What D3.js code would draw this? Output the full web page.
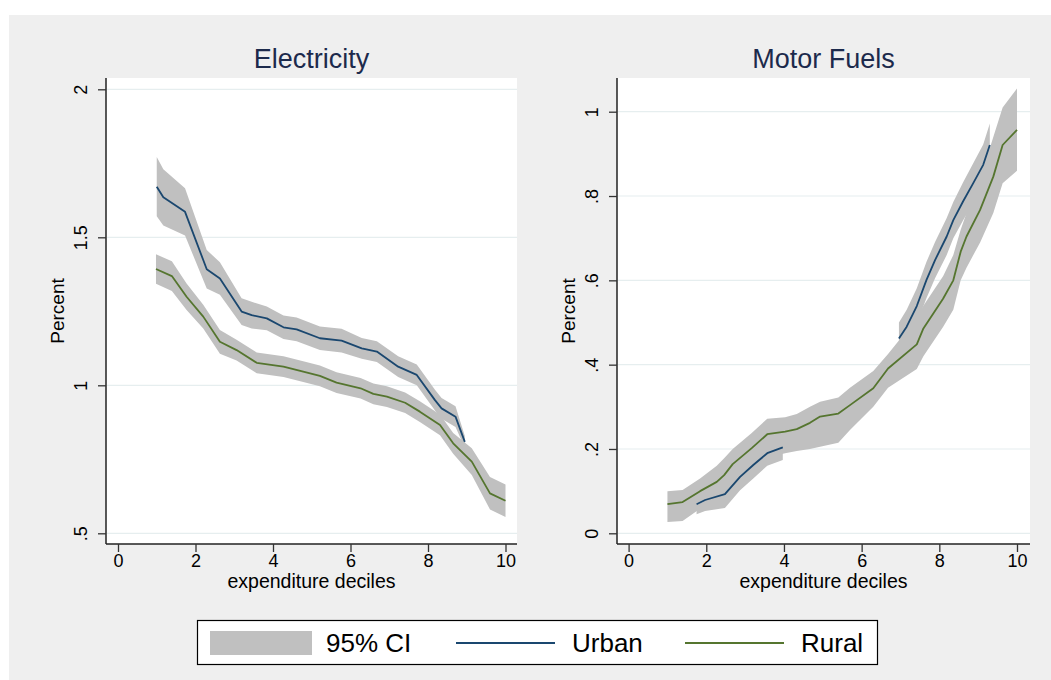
<!DOCTYPE html>
<html>
<head>
<meta charset="utf-8">
<script src="https://cdn.jsdelivr.net/npm/d3@7"></script>
<style>
  body { margin: 0; background: #fff; }
  text { font-family: "Liberation Sans", Arial, sans-serif; }
</style>
</head>
<body>
<div id="chart"></div>
<script>
// --- data ---
var xTicks = [0, 2, 4, 6, 8, 10];
var elecTicks = [0.5, 1, 1.5, 2];
var elecTickLabels = [".5", "1", "1.5", "2"];
var fuelTicks = [0, 0.2, 0.4, 0.6, 0.8, 1];
var fuelTickLabels = ["0", ".2", ".4", ".6", ".8", "1"];
var panelTitles = ["Electricity", "Motor Fuels"];
var legendLabels = ["95% CI", "Urban", "Rural"];

// Electricity, urban
var elecUrbanX  = [1.0, 1.17, 1.73, 2.29, 2.63, 3.19, 3.45, 3.84, 4.27, 4.61, 5.21, 5.77, 6.29, 6.68, 7.23, 7.71, 8.18, 8.35, 8.71, 8.95];
var elecUrban   = [1.671, 1.635, 1.586, 1.392, 1.361, 1.249, 1.237, 1.226, 1.196, 1.189, 1.159, 1.151, 1.125, 1.114, 1.063, 1.035, 0.950, 0.922, 0.894, 0.809];
var elecUrbanLo = [1.571, 1.540, 1.506, 1.327, 1.306, 1.204, 1.192, 1.186, 1.156, 1.149, 1.119, 1.111, 1.090, 1.079, 1.028, 1.000, 0.915, 0.887, 0.859, 0.789];
var elecUrbanHi = [1.771, 1.730, 1.666, 1.457, 1.416, 1.294, 1.282, 1.266, 1.236, 1.229, 1.199, 1.191, 1.160, 1.149, 1.098, 1.070, 0.985, 0.957, 0.929, 0.829];

// Electricity, rural
var elecRuralX  = [0.98, 1.39, 1.77, 2.2, 2.63, 3.06, 3.58, 4.27, 4.78, 5.21, 5.64, 6.26, 6.59, 6.94, 7.41, 7.79, 8.31, 8.65, 9.13, 9.6, 10.0];
var elecRural   = [1.393, 1.369, 1.299, 1.232, 1.147, 1.119, 1.076, 1.063, 1.046, 1.032, 1.009, 0.990, 0.971, 0.962, 0.941, 0.911, 0.866, 0.804, 0.742, 0.635, 0.610];
var elecRuralLo = [1.343, 1.319, 1.254, 1.192, 1.107, 1.084, 1.041, 1.028, 1.011, 0.997, 0.974, 0.955, 0.936, 0.927, 0.906, 0.876, 0.831, 0.769, 0.697, 0.580, 0.555];
var elecRuralHi = [1.443, 1.419, 1.344, 1.272, 1.187, 1.154, 1.111, 1.098, 1.081, 1.067, 1.044, 1.025, 1.006, 0.997, 0.976, 0.946, 0.901, 0.839, 0.787, 0.690, 0.665];

// Motor fuels, urban (null = no estimate)
var fuelUrbanX  = [1.75, 1.97, 2.48, 2.87, 3.21, 3.57, 3.97, null, 6.96, 7.16, 7.42, 7.67, 7.89, 8.19, 8.36, 8.61, 8.87, 9.13, 9.30];
var fuelUrban   = [0.069, 0.079, 0.093, 0.134, 0.162, 0.190, 0.204, null, 0.462, 0.490, 0.539, 0.601, 0.648, 0.704, 0.743, 0.787, 0.830, 0.874, 0.921];
var fuelUrbanLo = [0.045, 0.053, 0.060, 0.102, 0.130, 0.160, 0.174, null, 0.425, 0.450, 0.497, 0.558, 0.605, 0.660, 0.700, 0.742, 0.783, 0.826, 0.870];
var fuelUrbanHi = [0.093, 0.105, 0.125, 0.166, 0.194, 0.220, 0.234, null, 0.500, 0.530, 0.581, 0.644, 0.691, 0.748, 0.786, 0.832, 0.877, 0.922, 0.972];

// Motor fuels, rural
var fuelRuralX  = [1.0, 1.39, 1.84, 2.27, 2.46, 2.68, 3.17, 3.57, 4.03, 4.33, 4.67, 4.93, 5.40, 5.70, 6.30, 6.68, 7.42, 7.59, 8.10, 8.36, 8.55, 8.70, 9.05, 9.39, 9.63, 10.0];
var fuelRural   = [0.069, 0.074, 0.100, 0.122, 0.138, 0.164, 0.202, 0.235, 0.241, 0.247, 0.262, 0.277, 0.284, 0.304, 0.344, 0.391, 0.448, 0.486, 0.557, 0.600, 0.668, 0.704, 0.767, 0.846, 0.921, 0.957];
var fuelRuralLo = [0.027, 0.029, 0.058, 0.082, 0.096, 0.118, 0.160, 0.180, 0.190, 0.195, 0.200, 0.205, 0.215, 0.245, 0.300, 0.345, 0.390, 0.420, 0.490, 0.530, 0.600, 0.630, 0.690, 0.760, 0.830, 0.860];
var fuelRuralHi = [0.100, 0.103, 0.130, 0.160, 0.178, 0.200, 0.238, 0.272, 0.275, 0.283, 0.300, 0.312, 0.322, 0.345, 0.385, 0.425, 0.510, 0.540, 0.610, 0.660, 0.720, 0.760, 0.840, 0.940, 1.010, 1.055];

var
WIDTH = 1051,
HEIGHT = 680,
CI_COLOR = "#c0c0c0",
URBAN_COLOR = "#1a476f",
RURAL_COLOR = "#55752f",
GRID_COLOR = "#e6eeef";

function series(xs, ys, los, his) {
	return xs.map(function(x, i) {
		return { x: x, y: ys[i], lo: los[i], hi: his[i] };
	});
}

var svg = d3.select("#chart")
	.append("svg")
	.attr("width", WIDTH)
	.attr("height", HEIGHT);

// outer background
svg.append("rect").attr("width", WIDTH).attr("height", HEIGHT).attr("fill", "#fff");
svg.append("rect")
	.attr("x", 9).attr("y", 15)
	.attr("width", WIDTH - 9).attr("height", HEIGHT - 15)
	.attr("fill", "#efefef");

function drawPanel(opt) {
	var left = opt.left, right = opt.right, top = 78, bottom = 544;

	var x = d3.scaleLinear().domain([0, 10]).range(opt.xRange);
	var y = d3.scaleLinear().domain(opt.yDomain).range(opt.yRange);

	var g = svg.append("g");

	// plot region
	g.append("rect")
		.attr("x", left).attr("y", top)
		.attr("width", right - left).attr("height", bottom - top)
		.attr("fill", "#fff");

	// grid
	g.selectAll("line.grid")
		.data(opt.yTicks)
		.enter()
		.append("line")
		.attr("class", "grid")
		.attr("x1", left + 1).attr("x2", right)
		.attr("y1", function(d) { return y(d); })
		.attr("y2", function(d) { return y(d); })
		.attr("stroke", GRID_COLOR)
		.attr("stroke-width", 1.2);

	var area = d3.area()
		.defined(function(d) { return d.x != null; })
		.x(function(d) { return x(d.x); })
		.y0(function(d) { return y(d.lo); })
		.y1(function(d) { return y(d.hi); });

	var line = d3.line()
		.defined(function(d) { return d.x != null; })
		.x(function(d) { return x(d.x); })
		.y(function(d) { return y(d.y); });

	opt.data.forEach(function(s) {
		g.append("path").datum(s.values)
			.attr("d", area)
			.attr("fill", CI_COLOR);
	});
	opt.data.forEach(function(s) {
		g.append("path").datum(s.values)
			.attr("d", line)
			.attr("fill", "none")
			.attr("stroke", s.color)
			.attr("stroke-width", 1.8)
			.attr("stroke-linejoin", "round");
	});

	// y axis
	var yAxis = d3.axisLeft(y)
		.tickValues(opt.yTicks)
		.tickSize(8)
		.tickFormat(function(d, i) { return opt.yTickLabels[i]; });
	var ya = g.append("g")
		.attr("transform", "translate(" + left + ",0)")
		.call(yAxis);
	ya.select(".domain").attr("d", "M0," + top + "V" + bottom).attr("stroke", "#222").attr("stroke-width", 1.5);
	ya.selectAll(".tick line").attr("stroke", "#333").attr("stroke-width", 1.3);
	ya.selectAll(".tick text")
		.attr("transform", "rotate(-90)")
		.attr("x", 0)
		.attr("y", -19)
		.attr("dy", 0)
		.attr("text-anchor", "middle")
		.attr("fill", "#000")
		.style("font-size", "18px")
		.style("font-family", "Liberation Sans, Arial, sans-serif");

	// x axis
	var xAxis = d3.axisBottom(x).tickValues(xTicks).tickSize(8).tickFormat(d3.format("d"));
	var xa = g.append("g")
		.attr("transform", "translate(0," + bottom + ")")
		.call(xAxis);
	xa.select(".domain").attr("d", "M" + left + ",0H" + right).attr("stroke", "#222").attr("stroke-width", 1.5);
	xa.selectAll(".tick line").attr("stroke", "#333").attr("stroke-width", 1.3);
	xa.selectAll(".tick text")
		.attr("y", 10)
		.attr("fill", "#000")
		.style("font-size", "18px")
		.style("font-family", "Liberation Sans, Arial, sans-serif");

	// titles
	g.append("text")
		.attr("x", (left + right) / 2).attr("y", 68)
		.attr("text-anchor", "middle")
		.attr("fill", "#1c2a4c")
		.style("font-size", "27px")
		.text(opt.title);

	g.append("text")
		.attr("x", (left + right) / 2).attr("y", 588)
		.attr("text-anchor", "middle")
		.style("font-size", "19.5px")
		.text("expenditure deciles");

	g.append("text")
		.attr("transform", "translate(" + (left - 42) + "," + 311 + ") rotate(-90)")
		.attr("text-anchor", "middle")
		.style("font-size", "19px")
		.text("Percent");
}

drawPanel({
	left: 106, right: 517,
	xRange: [118, 505.5],
	yDomain: [0.5, 2], yRange: [533.3, 89.3],
	yTicks: elecTicks, yTickLabels: elecTickLabels,
	title: panelTitles[0],
	data: [
		{ color: URBAN_COLOR, values: series(elecUrbanX, elecUrban, elecUrbanLo, elecUrbanHi) },
		{ color: RURAL_COLOR, values: series(elecRuralX, elecRural, elecRuralLo, elecRuralHi) }
	]
});

drawPanel({
	left: 617, right: 1030,
	xRange: [628.6, 1017],
	yDomain: [0, 1], yRange: [533.3, 111.7],
	yTicks: fuelTicks, yTickLabels: fuelTickLabels,
	title: panelTitles[1],
	data: [
		{ color: URBAN_COLOR, values: series(fuelUrbanX, fuelUrban, fuelUrbanLo, fuelUrbanHi) },
		{ color: RURAL_COLOR, values: series(fuelRuralX, fuelRural, fuelRuralLo, fuelRuralHi) }
	]
});

// legend
var legend = svg.append("g").attr("class", "legend");
legend.append("rect")
	.attr("x", 197.5).attr("y", 620.5)
	.attr("width", 680).attr("height", 44)
	.attr("fill", "#fff")
	.attr("stroke", "#000")
	.attr("stroke-width", 1.2);
legend.append("rect")
	.attr("x", 210).attr("y", 631)
	.attr("width", 102).attr("height", 24)
	.attr("fill", CI_COLOR);
legend.append("text").attr("x", 326).attr("y", 652).style("font-size", "26px").text(legendLabels[0]);
legend.append("line")
	.attr("x1", 456).attr("x2", 555).attr("y1", 643).attr("y2", 643)
	.attr("stroke", URBAN_COLOR).attr("stroke-width", 1.8);
legend.append("text").attr("x", 572).attr("y", 652).style("font-size", "26px").text(legendLabels[1]);
legend.append("line")
	.attr("x1", 685).attr("x2", 784).attr("y1", 643).attr("y2", 643)
	.attr("stroke", RURAL_COLOR).attr("stroke-width", 1.8);
legend.append("text").attr("x", 801).attr("y", 652).style("font-size", "26px").text(legendLabels[2]);
</script>
</body>
</html>
